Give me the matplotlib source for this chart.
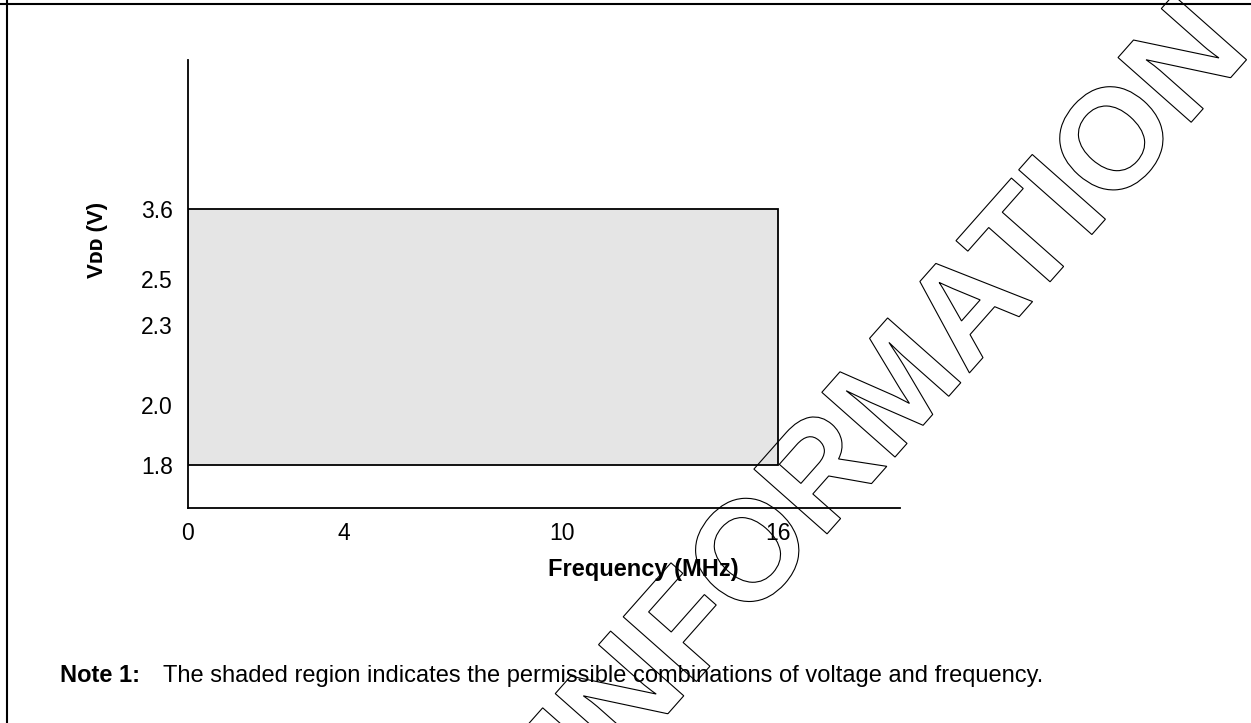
import numpy as np
import matplotlib
matplotlib.use("Agg")
import matplotlib.pyplot as plt
from matplotlib.patches import PathPatch, Rectangle
from matplotlib.textpath import TextPath
from matplotlib.font_manager import FontProperties
from matplotlib.transforms import Affine2D
from matplotlib.lines import Line2D

plt.rcParams['font.family'] = ['Liberation Sans', 'DejaVu Sans']

FREQ_TICKS = [0, 4, 10, 16]          # MHz
VDD_TICKS = [1.8, 2.0, 2.3, 2.5, 3.6]  # V
F_MAX = 16
VDD_MIN, VDD_MAX = 1.8, 3.6

NOTE_HEAD = "Note 1:"
NOTE_BODY = "The shaded region indicates the permissible combinations of voltage and frequency."
WATERMARK = "INFORMATION"

# the datasheet drawing is not to scale: pixel offset of each knot from the axes origin
x_knots = [0, 4, 10, 16, 20]
x_px = [0, 156, 374, 590, 712]
y_knots = [1.6, 1.8, 2.0, 2.3, 2.5, 3.6, 5.0]
y_px = [0, 43, 103, 183, 229, 299, 448]


def fwd_x(v):
    return np.interp(v, x_knots, x_px)


def inv_x(p):
    return np.interp(p, x_px, x_knots)


def fwd_y(v):
    return np.interp(v, y_knots, y_px)


def inv_y(p):
    return np.interp(p, y_px, y_knots)


W, H = 1251, 723
fig = plt.figure(figsize=(W / 100, H / 100), dpi=100)
ax = fig.add_axes([188 / W, 1 - 508 / H, 712 / W, 448 / H])
ax.set_xscale('function', functions=(fwd_x, inv_x))
ax.set_yscale('function', functions=(fwd_y, inv_y))
ax.set_xlim(x_knots[0], x_knots[-1])
ax.set_ylim(y_knots[0], y_knots[-1])

ax.add_patch(Rectangle((0, VDD_MIN), F_MAX, VDD_MAX - VDD_MIN,
                       facecolor='#e5e5e5', edgecolor='black', lw=1.3, zorder=2))

ax.set_xticks(FREQ_TICKS)
ax.set_xticklabels([str(f) for f in FREQ_TICKS])
ax.set_yticks(VDD_TICKS)
ax.set_yticklabels([f'{v:.1f}' for v in VDD_TICKS])
ax.minorticks_off()
ax.tick_params(axis='both', length=0, labelsize=16.5)
ax.tick_params(axis='y', pad=11)
ax.tick_params(axis='x', pad=10)

for s in ['top', 'right']:
    ax.spines[s].set_visible(False)
for s in ['left', 'bottom']:
    ax.spines[s].set_linewidth(1.3)

ax.set_xlabel('Frequency (MHz)', fontsize=17, fontweight='bold')
ax.xaxis.set_label_coords((643 - 188) / 712, -(558 - 508) / 448)
ax.set_ylabel('V\u1d05\u1d05 (V)', fontsize=16, fontweight='bold')
ax.yaxis.set_label_coords(-0.112, 0.598)

fig.text(140 / W, 1 - 676 / H, NOTE_HEAD, fontsize=17, fontweight='bold', va='center', ha='right')
fig.text(163 / W, 1 - 676 / H, NOTE_BODY, fontsize=17, va='center')

# page frame (only top and left edges are inside the crop)
fig.add_artist(Line2D([0, 1], [1 - 4 / H, 1 - 4 / H], transform=fig.transFigure, color='black', lw=1.5))
fig.add_artist(Line2D([7 / W, 7 / W], [0, 1], transform=fig.transFigure, color='black', lw=1.5))

# outlined diagonal watermark
tp = TextPath((0, 0), WATERMARK, size=142, prop=FontProperties(family='Liberation Sans', weight='bold'))
wm = PathPatch(tp, fill=False, edgecolor='black', lw=0.8,
               transform=Affine2D().rotate_deg(48.5).translate(596, -72))
fig.add_artist(wm)

fig.savefig('out.png', dpi=100)
